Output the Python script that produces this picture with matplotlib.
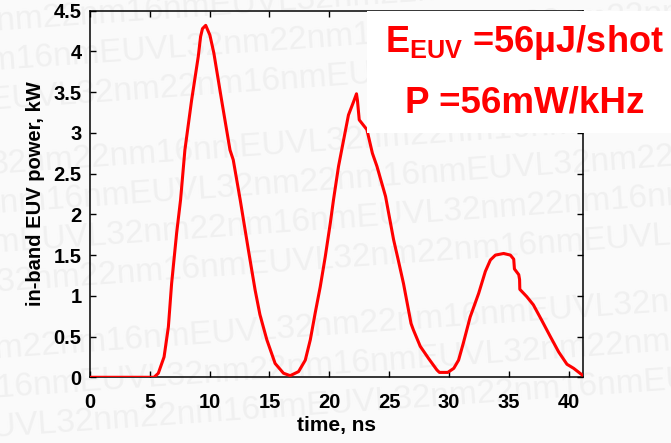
import matplotlib
matplotlib.use("Agg")
import matplotlib.pyplot as plt
from matplotlib.patches import Rectangle

# In-band EUV power trace of a single shot
time_ns = [0, 5.35, 5.71, 6.19, 6.55, 6.82, 7.24, 7.57, 7.93, 8.49, 9.05, 9.24,
           9.4, 9.67, 10.02, 10.35, 11.0, 11.7, 11.97, 12.55, 13.24, 13.8, 14.2,
           14.78, 15.47, 16.17, 16.73, 17.43, 17.99, 18.41, 18.82, 19.24, 19.66,
           20.08, 20.35, 20.77, 21.19, 21.6, 22.02, 22.27, 22.35, 22.5, 23.14,
           23.6, 23.98, 24.7, 25.37, 25.76, 26.2, 26.83, 27.03, 27.6, 28.3,
           28.99, 29.2, 29.9, 30.4, 30.8, 31.2, 31.77, 32.48, 33.04, 33.46,
           33.88, 34.57, 35.13, 35.41, 35.47, 35.83, 35.9, 35.92, 36.5, 37.05,
           37.75, 38.47, 39.17, 39.86, 40.42, 41.12]
power_kw = [0, 0, 0.05, 0.25, 0.62, 1.15, 1.77, 2.18, 2.79, 3.40, 3.94, 4.18,
            4.28, 4.32, 4.20, 3.98, 3.40, 2.79, 2.67, 2.18, 1.56, 1.07, 0.77,
            0.46, 0.17, 0.05, 0.02, 0.07, 0.21, 0.46, 0.79, 1.11, 1.48,
            1.89, 2.18, 2.59, 2.91, 3.22, 3.38, 3.48, 3.40, 3.16, 3.04,
            2.75, 2.59, 2.22, 1.69, 1.44, 1.15, 0.66, 0.58, 0.38, 0.23,
            0.09, 0.06, 0.06, 0.11, 0.21, 0.42, 0.74, 1.03, 1.30, 1.44,
            1.50, 1.52, 1.50, 1.45, 1.33, 1.26, 1.20, 1.08, 0.99, 0.89,
            0.70, 0.50, 0.31, 0.16, 0.11, 0.03]

x_ticks = [0, 5, 10, 15, 20, 25, 30, 35, 40]
y_ticks = [0, 0.5, 1, 1.5, 2, 2.5, 3, 3.5, 4, 4.5]
y_tick_labels = ["0", "0.5", "1", "1.5", "2", "2.5", "3", "3.5", "4", "4.5"]

energy_line = r"$\mathbf{E}_{\mathbf{EUV}}$ =56μJ/shot"
power_line = "P =56mW/kHz"
watermark = "32nm22nm16nmEUVL"

plt.rcParams["font.family"] = ["Liberation Sans", "DejaVu Sans"]
plt.rcParams["font.weight"] = "bold"
plt.rcParams["mathtext.fontset"] = "custom"
plt.rcParams["mathtext.rm"] = "Liberation Sans:bold"
plt.rcParams["mathtext.bf"] = "Liberation Sans:bold"

W, H = 671, 443
fig = plt.figure(figsize=(W / 100, H / 100), dpi=100, facecolor="#fafafa")

# faint repeated background lettering
offsets = [40, 150, 260, 10, 120, 230, 340, 60, 170, 280]
for i, off in enumerate(offsets):
    ypix = H - 25 - i * 47
    fig.text(-off / W, ypix / H, watermark * 4, fontsize=24, fontweight="normal",
             color="#f0f0f0", rotation=4, rotation_mode="anchor",
             ha="left", va="center", zorder=-1)

ax = fig.add_axes([90 / W, 1 - 377.3 / H, (583 - 90) / W, (377.3 - 10.7) / H])
ax.set_facecolor("none")
ax.plot(time_ns, power_kw, color="#ff0000", lw=2.2, zorder=3)

ax.set_xlim(0, 41.2)
ax.set_ylim(0, 4.5)
ax.set_xticks(x_ticks)
ax.set_yticks(y_ticks)
ax.set_yticklabels(y_tick_labels)
ax.tick_params(direction="in", length=4, width=1, top=True, right=True,
               labelsize=14.5, colors="black")
ax.tick_params(axis="x", pad=11)
ax.tick_params(axis="y", pad=6)
for s in ax.spines.values():
    s.set_linewidth(1.1)
    s.set_color("black")

ax.set_xlabel("time, ns", fontsize=15, fontweight="bold", labelpad=3)
ax.set_ylabel("in-band EUV power, kW", fontsize=14.5, fontweight="bold", labelpad=6)

# annotation panel in the upper right corner
fig.patches.append(Rectangle((367 / W, 1 - 133 / H), (W - 367) / W, (133 - 11.5) / H,
                             transform=fig.transFigure, facecolor="white",
                             edgecolor="none", zorder=5))
fig.text(524 / W, 1 - 42 / H, energy_line, fontsize=26, color="#ff0000",
         fontweight="bold", ha="center", va="center", zorder=6)
fig.text(525 / W, 1 - 103 / H, power_line, fontsize=26.5, color="#ff0000",
         fontweight="bold", ha="center", va="center", zorder=6)

fig.savefig("out.png", dpi=100, facecolor=fig.get_facecolor())
